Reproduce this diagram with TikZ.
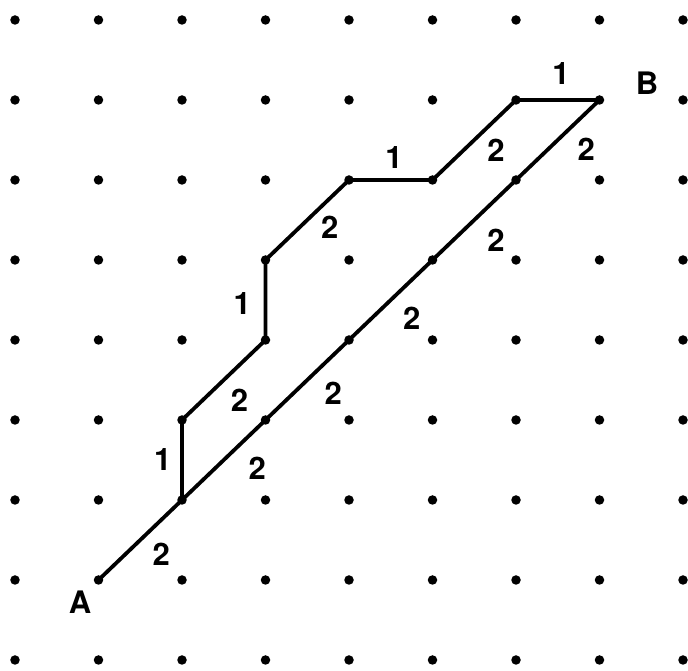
\documentclass[tikz,border=0pt]{standalone}
\usepackage{fontspec}
\setmainfont{TeX Gyre Heros}
\begin{document}
\begin{tikzpicture}[x=83.5pt,y=80pt,
  dot/.style={circle,fill=black,inner sep=0pt,minimum size=9.5pt},
  route/.style={line width=3.8pt,line cap=round,line join=round},
  lbl/.style={font=\fontsize{31}{31}\selectfont\bfseries,inner sep=0pt}]
\useasboundingbox (-15pt,-11pt) rectangle (673pt,660pt);
\foreach \c in {0,...,8}{
  \foreach \r in {0,...,8}{
    \node[dot] (d\c-\r) at (\c,\r) {};
  }
}
% lower straight path A -> B
\draw[route] (d1-1.center) -- (d2-2.center) -- (d3-3.center) -- (d4-4.center)
  -- (d5-5.center) -- (d6-6.center) -- (d7-7.center);
% upper stepped path
\draw[route] (d2-2.center) -- (d2-3.center) -- (d3-4.center) -- (d3-5.center)
  -- (d4-6.center) -- (d5-6.center) -- (d6-7.center) -- (d7-7.center);
% labels
\node[lbl] (lA) at (0.78,0.725) {A};
\node[lbl] (lB) at (7.57,7.21) {B};
\node[lbl] (l1) at (1.75,1.325) {2};
\node[lbl] (l2) at (1.77,2.5) {1};
\node[lbl] (l3) at (2.90,2.4) {2};
\node[lbl] (l4) at (2.69,3.25) {2};
\node[lbl] (l5) at (3.81,3.34) {2};
\node[lbl] (l6) at (2.72,4.46) {1};
\node[lbl] (l7) at (3.77,5.41) {2};
\node[lbl] (l8) at (4.75,4.275) {2};
\node[lbl] (l9) at (4.54,6.275) {1};
\node[lbl] (l10) at (5.76,5.25) {2};
\node[lbl] (l11) at (5.76,6.375) {2};
\node[lbl] (l12) at (6.54,7.325) {1};
\node[lbl] (l13) at (6.84,6.39) {2};
\end{tikzpicture}
\end{document}
